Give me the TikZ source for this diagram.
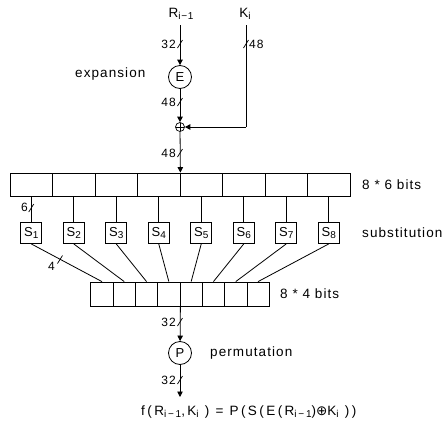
\documentclass[tikz,border=0pt]{standalone}
\usepackage{fontspec}
\setmainfont[LetterSpace=8]{Liberation Sans}
\newfontfamily\symfont{DejaVu Sans}
\newfontfamily\widefont[LetterSpace=18]{Liberation Sans}
\newcommand\sbs[1]{\raisebox{-0.28ex}{\fontsize{10}{10}\selectfont #1}}
\usetikzlibrary{arrows.meta,calc}
\begin{document}
\begin{tikzpicture}[x=1pt,y=-1pt,
  ln/.style={draw=black, line width=0.8pt},
  arr/.style={ln, -{Triangle[length=5.5pt,width=5.5pt]}},
  cell/.style={draw, line width=0.8pt, minimum width=42.5pt, minimum height=23pt, inner sep=0pt},
  smallcell/.style={draw, line width=0.8pt, minimum width=22.3pt, minimum height=24pt, inner sep=0pt},
  sbox/.style={draw, line width=0.8pt, minimum width=21pt, minimum height=21pt, inner sep=0pt, font=\fontsize{13}{13}\selectfont},
  fn/.style={draw, circle, line width=0.8pt, minimum size=23pt, inner sep=0pt, font=\fontsize{13}{13}\selectfont},
  xorsym/.style={draw, circle, line width=0.7pt, minimum size=9pt, inner sep=0pt,
    path picture={\draw[line width=0.7pt] (path picture bounding box.north) -- (path picture bounding box.south)
      (path picture bounding box.west) -- (path picture bounding box.east);}},
  lbl/.style={font=\fontsize{12}{12}\selectfont, inner sep=0pt},
  word/.style={font=\fontsize{13.5}{13.5}\selectfont, inner sep=0pt},
  tick/.style={line width=0.7pt}
]
\useasboundingbox (0,0) rectangle (445,426);

% inputs
\node[word] (R) at (181,14) {R\sbs{i−1}};
\node[word] (K) at (245,14) {K\sbs{i}};
\coordinate (Rs) at (180,25);
\coordinate (Ks) at (246,25);

% expansion
\node[fn] (E) at (180,77) {E};
\node[word, anchor=west] (expl) at (75,74) {expansion};
\draw[arr] (Rs) -- (E);

% xor
\node[xorsym] (X) at (180,127) {};
\coordinate (Kc) at (246,127);
\draw[arr] (E) -- (X);
\draw[ln] (Ks) -- (Kc);
\draw[arr] (Kc) -- (X);

% top register
\foreach \i in {1,...,8}
  \node[cell] (c\i) at ({10+42.5*(\i-0.5)},184.5) {};
\node[word, anchor=west] (l6) at (362,185) {8 * 6 bits};
\draw[arr] (X) -- (c4.north east);

% S-boxes
\foreach \i in {1,...,8}{
  \node[sbox] (s\i) at ({10+42.5*(\i-0.5)},233) {S\sbs{\i}};
  \draw[ln] (c\i.south) -- (s\i.north);
}
\node[word, anchor=west] (subl) at (362,233) {substitution};

% bottom register
\foreach \i in {1,...,8}{
  \node[smallcell] (b\i) at ({90.8+22.3*(\i-0.5)},294) {};
  \draw[ln] (s\i.south) -- (b\i.north);
}
\node[word, anchor=west] (l4) at (280,294) {8 * 4 bits};

% permutation
\node[fn] (P) at (180,353) {P};
\node[word, anchor=west] (perml) at (210,353) {permutation};
\draw[arr] (b4.south east) -- (P);
\coordinate (out) at (180,397);
\draw[arr] (P) -- (out);

% formula
\node[word, anchor=west] (formula) at (141,412)
  {\widefont f(R\sbs{i−1},K\sbs{i} ) = P(S(E(R\sbs{i−1}){\symfont ⊕}K\sbs{i} ))};

% bit-width ticks and labels
\foreach \x/\y in {180/44, 246/44, 180/102, 180/153, 31.25/208, 60/259.5, 180/322, 180/380}
  \draw[tick] (\x-2.5,\y+4) -- (\x+2.5,\y-4);
\node[lbl, anchor=east] (n1) at (176,44) {32};
\node[lbl, anchor=west] (n2) at (249,44) {48};
\node[lbl, anchor=east] (n3) at (176,102) {48};
\node[lbl, anchor=east] (n4) at (176,153) {48};
\node[lbl, anchor=east] (n5) at (28,207) {6};
\node[lbl, anchor=east] (n6) at (55,266) {4};
\node[lbl, anchor=east] (n7) at (176,322) {32};
\node[lbl, anchor=east] (n8) at (176,380) {32};
\end{tikzpicture}
\end{document}
